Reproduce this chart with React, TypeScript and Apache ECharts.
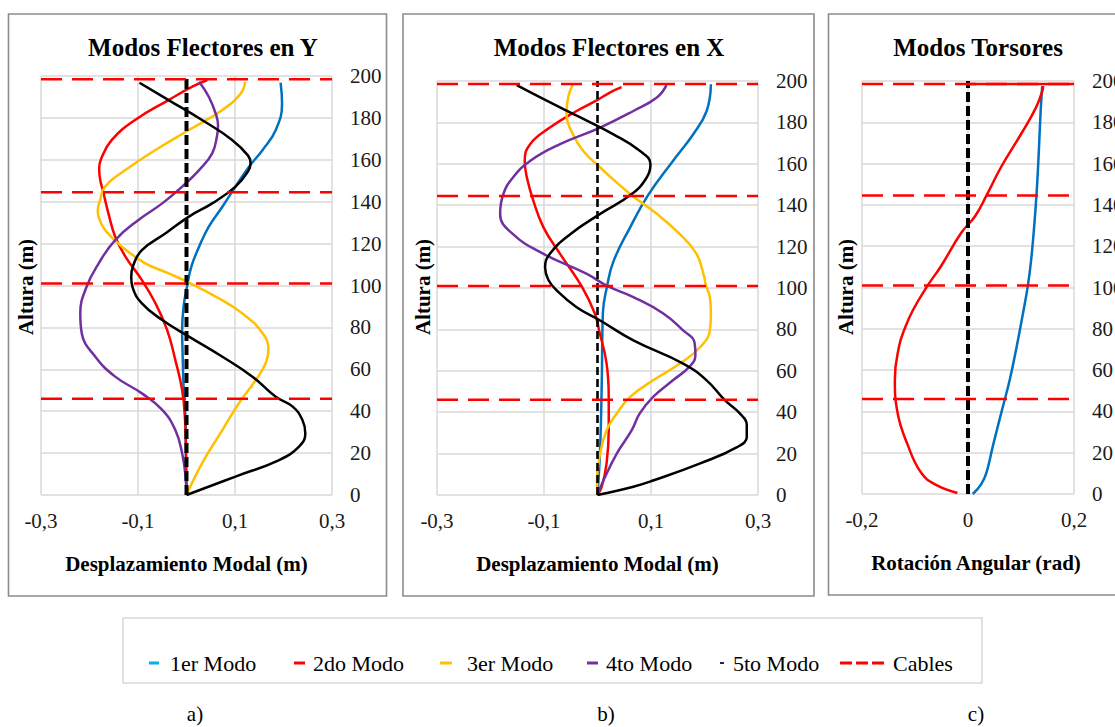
import React, { useEffect, useRef } from 'react';
import * as echarts from 'echarts';

const FONT = 'Liberation Serif';

// ---- Data ----
const modeNames = ['1er Modo', '2do Modo', '3er Modo', '4to Modo', '5to Modo'];
const modeColors = ['#0070C0', '#FF0000', '#FFC000', '#7030A0', '#000000'];
const cableHeights = [198.5, 144.5, 101, 46];
const yTicksMax = 200;

// Panel a) Modos Flectores en Y  [desplazamiento (m), altura (m)]
const blueA = [[0, 0], [-0.001, 11.9], [-0.002, 35.8], [-0.006, 51.7], [-0.008, 67.6], [-0.009, 78.8], [-0.006, 89.9], [0.001, 99.4], [0.01, 109], [0.026, 118.5], [0.046, 128.1], [0.074, 137.6], [0.101, 147.2], [0.129, 156.7], [0.157, 164.7], [0.184, 174.2], [0.197, 186.9], [0.194, 196.8]];
const redA = [[0, 0], [-0.001, 19.9], [-0.003, 35.8], [-0.009, 50.1], [-0.023, 64.4], [-0.04, 78.8], [-0.064, 91.5], [-0.092, 102.6], [-0.126, 113.8], [-0.147, 123.3], [-0.161, 134.4], [-0.171, 144], [-0.179, 152], [-0.18, 156], [-0.176, 160.5], [-0.154, 169.5], [-0.106, 179], [-0.037, 188.5], [0.012, 194.9], [0.043, 198.1]];
const yellowA = [[0, 0], [0.032, 15.1], [0.074, 31], [0.108, 43.8], [0.143, 54.9], [0.163, 62.8], [0.169, 69.2], [0.157, 77.2], [0.115, 86.7], [0.06, 94.7], [0.001, 101.8], [-0.037, 105.8], [-0.085, 110.6], [-0.133, 118.5], [-0.168, 126.5], [-0.181, 132.5], [-0.183, 136], [-0.179, 140], [-0.168, 147.2], [-0.126, 155.1], [-0.064, 164.7], [0.005, 174.2], [0.074, 183.8], [0.112, 191.7], [0.121, 197.3]];
const purpleA = [[0, 0], [-0.002, 8.8], [-0.009, 19.9], [-0.023, 31], [-0.05, 40.6], [-0.092, 48.5], [-0.147, 56.5], [-0.188, 66], [-0.216, 77.2], [-0.219, 86.7], [-0.206, 99.4], [-0.181, 110.6], [-0.147, 121.7], [-0.099, 131.3], [-0.05, 139.2], [-0.009, 147.2], [0.026, 155.1], [0.053, 163.1], [0.063, 171.5], [0.065, 176.5], [0.061, 181.5], [0.046, 190.1], [0.026, 197.3]];
const blackA = [[0, 0], [0.101, 8.8], [0.191, 16.7], [0.232, 23.1], [0.245, 29.4], [0.239, 35.8], [0.219, 42.2], [0.184, 46.9], [0.136, 56.5], [0.074, 66], [0.005, 75.6], [-0.05, 83.5], [-0.092, 91.5], [-0.111, 99], [-0.114, 104], [-0.11, 109.5], [-0.092, 116.9], [-0.043, 124.9], [0.005, 132.9], [0.053, 139.2], [0.101, 147.2], [0.127, 154.5], [0.132, 158.3], [0.127, 162], [0.094, 169.5], [0.032, 179], [-0.037, 188.5], [-0.097, 196.8]];

// Panel b) Modos Flectores en X
const blueB = [[0, 0], [0.005, 23], [0.008, 55], [0.01, 87.7], [0.018, 101], [0.03, 113], [0.061, 129.3], [0.094, 144.6], [0.141, 161.4], [0.179, 174.3], [0.204, 185.5], [0.212, 198.4]];
const redB = [[0, 0], [0.008, 4], [0.017, 15.3], [0.021, 31.3], [0.021, 47.4], [0.017, 63.5], [0.003, 79.5], [-0.005, 87.7], [-0.03, 101], [-0.07, 116.5], [-0.101, 129.3], [-0.12, 142.2], [-0.132, 153.4], [-0.136, 161.4], [-0.126, 169.5], [-0.089, 177.5], [-0.039, 185.5], [0.001, 191], [0.023, 194.4], [0.045, 197]];
const yellowB = [[0, 0], [-0.001, 7], [0.005, 20], [0.017, 31.3], [0.036, 39.4], [0.061, 47.4], [0.104, 55.4], [0.154, 63.5], [0.192, 71.5], [0.21, 79.5], [0.212, 87.7], [0.21, 95.6], [0.203, 101], [0.198, 106.8], [0.185, 116.5], [0.154, 126], [0.111, 135.8], [0.061, 145.4], [0.005, 158.2], [-0.027, 166.3], [-0.046, 174.3], [-0.058, 184], [-0.055, 192], [-0.046, 198.4]];
const purpleB = [[0, 0], [0.011, 7], [0.036, 20], [0.064, 31.3], [0.079, 39.4], [0.104, 47.4], [0.141, 55.4], [0.172, 62], [0.183, 67.5], [0.181, 74], [0.16, 79.5], [0.123, 87.7], [0.067, 95.6], [0.018, 101], [-0.02, 106.8], [-0.101, 116.5], [-0.158, 126], [-0.182, 135.8], [-0.176, 145.4], [-0.158, 153.4], [-0.126, 161.4], [-0.07, 169.5], [0.005, 177.5], [0.067, 185.5], [0.111, 192], [0.129, 198]];
const blackB = [[0, 0], [0.067, 4], [0.104, 7], [0.192, 15.3], [0.26, 23], [0.279, 28], [0.279, 34], [0.266, 39.4], [0.238, 45.8], [0.204, 55.4], [0.16, 63.5], [0.067, 74.7], [0.005, 84.3], [-0.039, 90.7], [-0.076, 98.8], [-0.092, 104], [-0.098, 110], [-0.089, 116.5], [-0.051, 126], [0.005, 135.8], [0.064, 145.4], [0.092, 153.4], [0.099, 159.8], [0.079, 166.3], [0.029, 174.3], [-0.033, 182.5], [-0.095, 190.5], [-0.151, 198]];

// Panel c) Modos Torsores  [rotación (rad), altura (m)]
const blueC = [[0.009, 0], [0.025, 4.8], [0.035, 10.5], [0.047, 23.3], [0.063, 39.5], [0.079, 55.6], [0.092, 71.6], [0.104, 87.8], [0.113, 101], [0.119, 113], [0.125, 130], [0.13, 148], [0.134, 168], [0.137, 185], [0.14, 197.5]];
const redC = [[-0.02, 0.5], [-0.063, 4.8], [-0.089, 10.5], [-0.113, 23.3], [-0.133, 39.5], [-0.138, 55.6], [-0.13, 71.6], [-0.12, 79.7], [-0.104, 89], [-0.076, 101], [-0.051, 110.3], [-0.013, 126.4], [0.013, 134.4], [0.035, 144.6], [0.063, 158.6], [0.101, 174.7], [0.128, 187], [0.14, 195], [0.142, 197.5]];
const topLineC = [[0, 198.6], [0.2, 198.6]];

const panels = [
  {
    title: 'Modos Flectores en Y', titleX: 203, xName: 'Desplazamiento Modal (m)', xNamePad: 0,
    grid: { left: 41, top: 76, width: 291, height: 419 }, min: -0.3, max: 0.3,
    modes: [blueA, redA, yellowA, purpleA, blackA], zeroW: 4, zeroDash: [10, 4], altX: 26,
  },
  {
    title: 'Modos Flectores en X', titleX: 609, xName: 'Desplazamiento Modal (m)', xNamePad: 0,
    grid: { left: 437, top: 81, width: 321, height: 414 }, min: -0.3, max: 0.3,
    modes: [blueB, redB, yellowB, purpleB, blackB], zeroW: 2.6, zeroDash: [8, 4], altX: 423,
  },
  {
    title: 'Modos Torsores', titleX: 978, xName: 'Rotación Angular (rad)', xNamePad: 16,
    grid: { left: 862, top: 81, width: 212, height: 413 }, min: -0.2, max: 0.2,
    modes: [blueC, redC], zeroW: 4, zeroDash: [10, 4], altX: 846,
  },
];

const legendItems = [
  { name: '1er Modo', left: 149, w: 10, h: 3, icon: 'rect', color: '#00B0F0', pad: 6 },
  { name: '2do Modo', left: 294, w: 11, h: 3, icon: 'rect', color: '#FF0000', pad: 3 },
  { name: '3er Modo', left: 440, w: 12, h: 3, icon: 'rect', color: '#FFC000', pad: 10 },
  { name: '4to Modo', left: 587, w: 11, h: 3, icon: 'rect', color: '#7030A0', pad: 3 },
  { name: '5to Modo', left: 720, w: 4, h: 2, icon: 'rect', color: '#1F2A5A', pad: 4 },
  { name: 'Cables', left: 840, w: 44, h: 3, icon: 'path://M0,0H12V3H0Z M16,0H28V3H16Z M32,0H44V3H32Z', color: '#FF0000', pad: 4 },
];

const fmt = (v: number) => (Math.abs(v) < 1e-9 ? '0' : (Math.round(v * 10) / 10).toFixed(1).replace('.', ','));

export default function App() {
  const ref = useRef<HTMLDivElement>(null);
  useEffect(() => {
    const chart = echarts.init(ref.current!, null, { renderer: 'svg' });
    const grids: any[] = [];
    const xAxes: any[] = [];
    const yAxes: any[] = [];
    const series: any[] = [];
    const graphics: any[] = [];

    panels.forEach((p, i) => {
      grids.push({ ...p.grid, containLabel: false, outerBoundsMode: 'none' });
      xAxes.push({
        type: 'value', gridIndex: i, min: p.min, max: p.max, interval: 0.2,
        axisLine: { show: false }, axisTick: { show: false },
        splitLine: { show: true, lineStyle: { color: '#d9d9d9', width: 1.5 } },
        axisLabel: { formatter: fmt, fontFamily: FONT, fontSize: 21, color: '#1a1a1a', margin: 15 },
        name: p.xName, nameLocation: 'middle', nameGap: 58,
        nameTextStyle: { fontFamily: FONT, fontSize: 21, fontWeight: 'bold', color: '#000', padding: [0, 0, 0, p.xNamePad] },
      });
      yAxes.push({
        type: 'value', gridIndex: i, position: 'right', min: 0, max: yTicksMax, interval: 20,
        axisLine: { show: false }, axisTick: { show: false },
        splitLine: { show: true, lineStyle: { color: '#d9d9d9', width: 1.5 } },
        axisLabel: { fontFamily: FONT, fontSize: 21, color: '#1a1a1a', margin: 18 },
      });
      p.modes.forEach((d, k) => {
        series.push({
          type: 'line', name: modeNames[k], xAxisIndex: i, yAxisIndex: i, data: d,
          smooth: 0.45, showSymbol: false, symbol: 'none',
          lineStyle: { color: modeColors[k], width: 2.5 }, itemStyle: { color: modeColors[k] },
          z: 2,
        });
      });
      series.push({
        type: 'line', name: 'Eje', xAxisIndex: i, yAxisIndex: i,
        data: [[0, 0], [0, yTicksMax]], symbol: 'none',
        lineStyle: { color: '#000', width: p.zeroW, type: p.zeroDash }, z: 3,
      });
      cableHeights.forEach((h) => {
        series.push({
          type: 'line', name: 'Cables', xAxisIndex: i, yAxisIndex: i,
          data: [[p.min, h], [p.max, h]], symbol: 'none',
          lineStyle: { color: '#FF0000', width: 2.5, type: [21, 10] }, itemStyle: { color: '#FF0000' }, z: 4,
        });
      });
      graphics.push({
        type: 'text', x: p.titleX, y: 47,
        style: { text: p.title, fontFamily: FONT, fontSize: 25, fontWeight: 'bold', fill: '#000', align: 'center', verticalAlign: 'middle' },
      });
      graphics.push({
        type: 'text', x: p.altX, y: 287, rotation: Math.PI / 2,
        style: { text: 'Altura (m)', fontFamily: FONT, fontSize: 21, fontWeight: 'bold', fill: '#000', align: 'center', verticalAlign: 'middle' },
      });
    });

    series.push({
      type: 'line', name: 'Cables', xAxisIndex: 2, yAxisIndex: 2, data: topLineC, symbol: 'none',
      lineStyle: { color: '#FF0000', width: 2.5 }, z: 4,
    });

    // panel borders
    [[8.5, 14, 378, 582], [403, 14, 411, 582], [828.5, 14, 320, 581]].forEach(([x, y, w, h]) => {
      graphics.push({ type: 'rect', shape: { x, y, width: w, height: h }, style: { fill: 'none', stroke: '#8c8c8c', lineWidth: 1.6 }, z: -1 });
    });
    // legend box
    graphics.push({ type: 'rect', shape: { x: 123, y: 618, width: 859, height: 65 }, style: { fill: 'none', stroke: '#d9d9d9', lineWidth: 1.5 }, z: -1 });
    // sub-figure labels
    [['a)', 195], ['b)', 606], ['c)', 976]].forEach(([t, x]) => {
      graphics.push({ type: 'text', x: x as number, y: 714, style: { text: t as string, fontFamily: FONT, fontSize: 21, fill: '#000', align: 'center', verticalAlign: 'middle' } });
    });

    const legends = legendItems.map((it) => ({
      data: [{ name: it.name, icon: it.icon, itemStyle: { color: it.color } }],
      left: it.left, top: 652, padding: 0, itemWidth: it.w, itemHeight: it.h,
      selectedMode: false,
      textStyle: { fontFamily: FONT, fontSize: 22, color: '#000', padding: [0, 0, 0, it.pad] },
    }));

    chart.setOption({
      animation: false,
      backgroundColor: '#fff',
      textStyle: { fontFamily: FONT },
      grid: grids,
      xAxis: xAxes,
      yAxis: yAxes,
      legend: legends,
      series,
      graphic: graphics,
    });
    return () => chart.dispose();
  }, []);
  return <div ref={ref} style={{ position: 'absolute', left: 0, top: 0, width: 1115, height: 727, background: '#fff' }} />;
}
